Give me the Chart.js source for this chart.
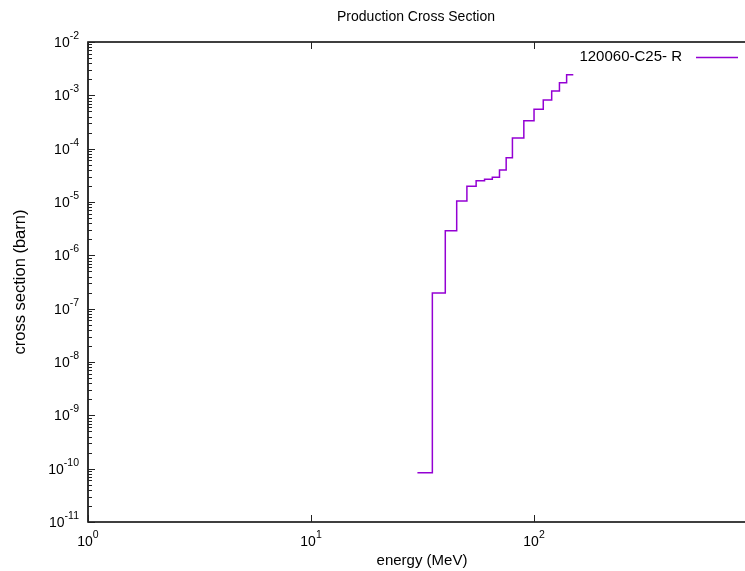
<!DOCTYPE html>
<html>
<head>
<meta charset="utf-8">
<script src="https://cdn.jsdelivr.net/npm/chart.js@4"></script>
<style>
  html, body { margin: 0; padding: 0; background: #fff; }
  #wrap { width: 745px; height: 571px; position: relative; }
</style>
</head>
<body>
<div id="wrap"><canvas id="xsChart"></canvas></div>
<script>
// Data: bin edges (MeV) and cross section per bin (barn)
const energyEdges = [30, 35, 40, 45, 50, 55, 60, 65, 70, 75, 80, 90, 100, 110, 120, 130, 140, 150];
const crossSection = [8.4e-11, 1.96e-7, 2.9e-6, 1.04e-5, 1.97e-5, 2.5e-5, 2.67e-5, 2.92e-5,
                      3.98e-5, 6.76e-5, 1.58e-4, 3.34e-4, 5.47e-4, 8.17e-4, 1.21e-3, 1.73e-3, 2.44e-3];
const xTickValues = [1, 10, 100];
const xTickExps = ['0', '1', '2'];
const yTickExps = [-11, -10, -9, -8, -7, -6, -5, -4, -3, -2];

const SERIES_LABEL = '120060-C25- R';
const LINE_COLOR = '#9400d3';
const FONT = '"Liberation Sans", Arial, Helvetica, sans-serif';

// step points: each bin holds its value until the next edge
const stepPoints = energyEdges.map((e, i) => ({
    x: e,
    y: crossSection[Math.min(i, crossSection.length - 1)]
}));

// gnuplot-like frame, ticks and labels
const gnuplotFrame = {
    id: 'gnuplotFrame',
    afterDraw(chart) {
        const ctx = chart.ctx;
        const area = chart.chartArea;
        const xs = chart.scales.x;
        const ys = chart.scales.y;
        ctx.save();

        // border
        ctx.strokeStyle = '#000';
        ctx.lineWidth = 1.6;
        ctx.beginPath();
        ctx.moveTo(area.right + 2, area.top);
        ctx.lineTo(area.left, area.top);
        ctx.lineTo(area.left, area.bottom);
        ctx.lineTo(area.right + 2, area.bottom);
        ctx.stroke();

        // y ticks (major + minor, inward)
        ctx.lineWidth = 1;
        ctx.strokeStyle = '#222';
        yTickExps.forEach(p => {
            const base = Math.pow(10, p);
            const yp = Math.round(ys.getPixelForValue(base)) + 0.5;
            ctx.beginPath();
            ctx.moveTo(area.left, yp);
            ctx.lineTo(area.left + 7, yp);
            ctx.stroke();
            if (p < -2) {
                for (let m = 2; m <= 9; m++) {
                    const ym = Math.round(ys.getPixelForValue(base * m)) + 0.5;
                    ctx.beginPath();
                    ctx.moveTo(area.left, ym);
                    ctx.lineTo(area.left + 4, ym);
                    ctx.stroke();
                }
            }
        });

        // x ticks (bottom and top)
        xTickValues.forEach(v => {
            const xp = Math.round(xs.getPixelForValue(v)) + 0.5;
            ctx.beginPath();
            ctx.moveTo(xp, area.bottom);
            ctx.lineTo(xp, area.bottom - 7);
            ctx.moveTo(xp, area.top);
            ctx.lineTo(xp, area.top + 7);
            ctx.stroke();
        });

        ctx.fillStyle = '#000';
        ctx.textBaseline = 'middle';

        // y tick labels 10^p
        yTickExps.forEach(p => {
            const yp = ys.getPixelForValue(Math.pow(10, p));
            const exp = String(p);
            ctx.font = '10.5px ' + FONT;
            const ew = ctx.measureText(exp).width;
            ctx.textAlign = 'right';
            ctx.fillText(exp, 79, yp - 6);
            ctx.font = '14px ' + FONT;
            ctx.fillText('10', 79 - ew, yp + 1);
        });

        // x tick labels 10^n
        xTickValues.forEach((v, i) => {
            const xp = xs.getPixelForValue(v);
            ctx.font = '14px ' + FONT;
            const bw = ctx.measureText('10').width;
            ctx.font = '10.5px ' + FONT;
            const ew = ctx.measureText(xTickExps[i]).width;
            const x0 = xp - (bw + ew) / 2;
            ctx.textAlign = 'left';
            ctx.font = '14px ' + FONT;
            ctx.fillText('10', x0, area.bottom + 20);
            ctx.font = '10.5px ' + FONT;
            ctx.fillText(xTickExps[i], x0 + bw, area.bottom + 13);
        });

        // title and axis labels
        ctx.textAlign = 'center';
        ctx.font = '14px ' + FONT;
        ctx.fillText('Production Cross Section', 416, 17);
        ctx.font = '15px ' + FONT;
        ctx.fillText('energy (MeV)', 422, 561);
        ctx.save();
        ctx.translate(20, (area.top + area.bottom) / 2);
        ctx.rotate(-Math.PI / 2);
        ctx.font = '16.5px ' + FONT;
        ctx.fillText('cross section (barn)', 0, 0);
        ctx.restore();

        // key: text then line sample
        ctx.textAlign = 'right';
        ctx.font = '15px ' + FONT;
        ctx.fillText(SERIES_LABEL, 682, 57);
        ctx.strokeStyle = LINE_COLOR;
        ctx.lineWidth = 1.5;
        ctx.beginPath();
        ctx.moveTo(696, 57.5);
        ctx.lineTo(738, 57.5);
        ctx.stroke();

        ctx.restore();
    }
};

const ctx = document.getElementById('xsChart').getContext('2d');
new Chart(ctx, {
    type: 'line',
    data: {
        datasets: [{
            label: SERIES_LABEL,
            data: stepPoints,
            stepped: 'before',
            borderColor: LINE_COLOR,
            borderWidth: 1.5,
            pointRadius: 0,
            fill: false
        }]
    },
    options: {
        responsive: true,
        maintainAspectRatio: false,
        animation: false,
        layout: { padding: { left: 88, top: 42, bottom: 49, right: 0 } },
        plugins: {
            legend: { display: false },
            title: { display: false },
            tooltip: { enabled: false }
        },
        scales: {
            x: { type: 'logarithmic', min: 1, max: 883, display: false },
            y: { type: 'logarithmic', min: 1e-11, max: 1e-2, display: false }
        }
    },
    plugins: [gnuplotFrame]
});
</script>
</body>
</html>
